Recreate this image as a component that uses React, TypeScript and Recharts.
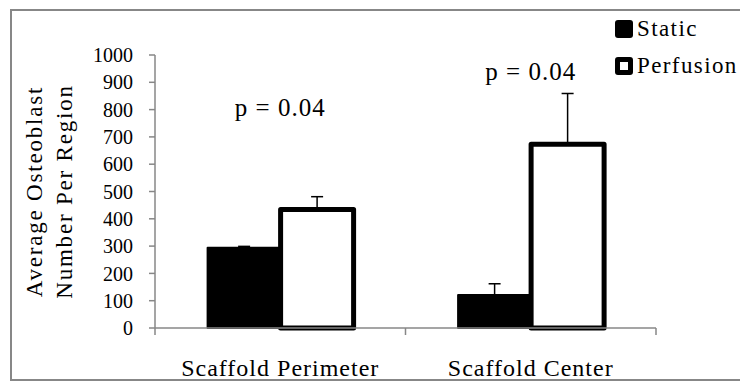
import { BarChart, Bar, XAxis, YAxis, ErrorBar, ReferenceDot } from 'recharts';

const categories = ['Scaffold Perimeter', 'Scaffold Center'];
const staticValues = [294, 121];
const staticErrors = [5, 41];
const perfusionValues = [434, 673];
const perfusionErrors = [47, 186];
const yTicks = [0, 100, 200, 300, 400, 500, 600, 700, 800, 900, 1000];
const pLabels = ['p = 0.04', 'p = 0.04'];

const data = categories.map((name, i) => ({
    name,
    static: staticValues[i],
    staticErr: [0, staticErrors[i]],
    perfusion: perfusionValues[i],
    perfusionErr: [0, perfusionErrors[i]],
}));

const FONT = 'Liberation Serif, Tinos, DejaVu Serif, serif';
const AXIS_GREY = '#878787';

// category tick: label centred under the group, tick marks on the band edges
function CategoryTick(props: any) {
    const { x, y, payload, index, visibleTicksCount } = props;
    const half = payload.offset ?? 125;
    const axisY = y - 6;
    return (
        <g>
            <line x1={x - half} x2={x - half} y1={axisY} y2={axisY + 7} stroke={AXIS_GREY} strokeWidth={1.5} />
            {index === visibleTicksCount - 1 && (
                <line x1={x + half} x2={x + half} y1={axisY} y2={axisY + 7} stroke={AXIS_GREY} strokeWidth={1.5} />
            )}
            <text x={x} y={axisY + 48} textAnchor="middle" style={{ fontFamily: FONT }} fontSize={24} letterSpacing={1} fill="#000">
                {payload.value}
            </text>
        </g>
    );
}

function YTitle(props: any) {
    const { viewBox } = props;
    const cy = viewBox.y + viewBox.height / 2;
    const lines = ['Average Osteoblast', 'Number Per Region'];
    const xs = [viewBox.x - 53, viewBox.x - 23];
    return (
        <g>
            {lines.map((t, i) => (
                <text
                    key={t}
                    x={xs[i]}
                    y={cy}
                    transform={`rotate(-90 ${xs[i]} ${cy})`}
                    textAnchor="middle"
                    style={{ fontFamily: FONT }}
                    fontSize={23}
                    letterSpacing={1.8}
                    fill="#000"
                >
                    {t}
                </text>
            ))}
        </g>
    );
}

function PLabel(text: string) {
    return (props: any) => {
        const { viewBox } = props;
        const cx = viewBox.x + (viewBox.width || 0) / 2;
        const cy = viewBox.y + (viewBox.height || 0) / 2;
        return (
            <text x={cx} y={cy} textAnchor="middle" style={{ fontFamily: FONT }} fontSize={25} letterSpacing={1} fill="#000">
                {text}
            </text>
        );
    };
}

function LegendBox() {
    const items = [
        { label: 'Static', box: { background: '#000' } },
        { label: 'Perfusion', box: { background: '#fff', border: '5px solid #000', boxSizing: 'border-box' as const } },
    ];
    return (
        <div style={{ position: 'absolute', left: 615, top: 10, fontFamily: FONT }}>
            {items.map((it) => (
                <div key={it.label} style={{ display: 'flex', alignItems: 'center', height: 37 }}>
                    <div style={{ width: 18, height: 18, borderRadius: 3, ...it.box }} />
                    <span style={{ fontSize: 23, letterSpacing: 1.4, marginLeft: 4, color: '#000', whiteSpace: 'nowrap' }}>{it.label}</span>
                </div>
            ))}
        </div>
    );
}

export default function App() {
    return (
        <div style={{ position: 'fixed', left: 0, top: 0, width: 740, height: 382, overflow: 'hidden', background: '#fff', fontFamily: FONT }}>
            <div
                style={{
                    position: 'absolute',
                    left: 10,
                    top: 9,
                    width: 760,
                    height: 368,
                    border: `2px solid ${AXIS_GREY}`,
                }}
            />
            <BarChart
                width={740}
                height={382}
                data={data}
                margin={{ top: 55, right: 84, bottom: 0, left: 95 }}
                barCategoryGap="21%"
                barGap={0}
                style={{ position: 'absolute', left: 0, top: 0 }}
            >
                <XAxis
                    dataKey="name"
                    height={54}
                    tickLine={false}
                    tickSize={6}
                    tickMargin={0}
                    interval={0}
                    axisLine={{ stroke: AXIS_GREY, strokeWidth: 1.5 }}
                    tick={<CategoryTick />}
                />
                <YAxis
                    width={60}
                    domain={[0, 1000]}
                    ticks={yTicks}
                    interval={0}
                    tickSize={6}
                    tickMargin={16}
                    axisLine={{ stroke: AXIS_GREY, strokeWidth: 1.5 }}
                    tickLine={{ stroke: AXIS_GREY, strokeWidth: 1.5 }}
                    tick={{ style: { fontFamily: FONT }, fontSize: 20, fill: '#000' }}
                    label={<YTitle />}
                />
                <Bar dataKey="static" name="Static" fill="#000" stroke="#000" strokeWidth={2} strokeLinejoin="round" isAnimationActive={false}>
                    <ErrorBar dataKey="staticErr" width={6} stroke="#000" strokeWidth={1.5} />
                </Bar>
                <Bar dataKey="perfusion" name="Perfusion" fill="#fff" stroke="#000" strokeWidth={5} strokeLinejoin="round" isAnimationActive={false}>
                    <ErrorBar dataKey="perfusionErr" width={6} stroke="#000" strokeWidth={1.5} />
                </Bar>
                <ReferenceDot x={categories[0]} y={775} r={1} fill="none" stroke="none" label={PLabel(pLabels[0])} />
                <ReferenceDot x={categories[1]} y={910} r={1} fill="none" stroke="none" label={PLabel(pLabels[1])} />
            </BarChart>
            <LegendBox />
        </div>
    );
}
